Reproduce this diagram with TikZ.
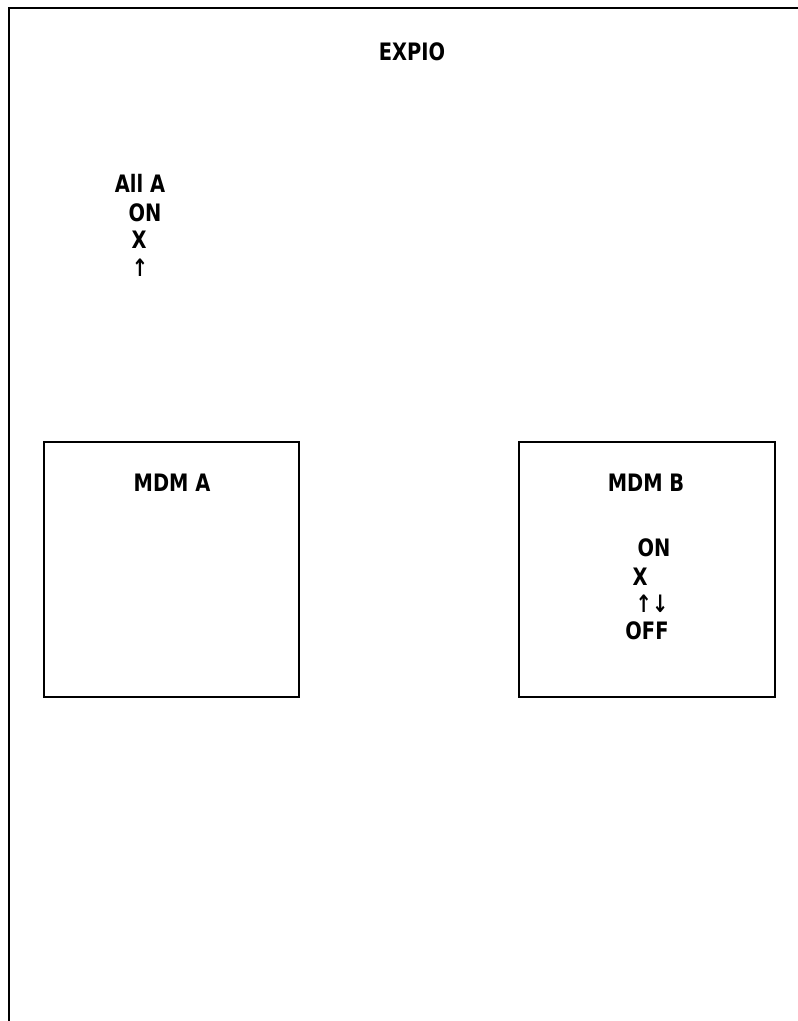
\documentclass[tikz,border=0pt]{standalone}
\usepackage{fontspec}
\usepackage{graphicx}
\setmainfont{DejaVu Sans Condensed}[BoldFont={DejaVu Sans Condensed Bold}]
\newcommand{\narrowtxt}[1]{\scalebox{0.9}[1]{#1}}
\begin{document}
\begin{tikzpicture}[x=1pt,y=-1pt,
  lbl/.style={font=\fontsize{24}{27}\selectfont\bfseries, inner sep=0pt},
  mdm/.style={draw, line width=2.5pt},
  frame/.style={line width=2.5pt}]
\useasboundingbox (0,0) rectangle (798,1021);
\coordinate (tl) at (9,8);
\coordinate (tr) at (798,8);
\coordinate (bl) at (9,1021);
\draw[frame] (tr) -- (tl) -- (bl);
\node[lbl] (expio) at (412,52) {\narrowtxt{EXPIO}};
\node[lbl] (alla) at (140,183) {\narrowtxt{All A}};
\node[lbl] (aon) at (145,213) {\narrowtxt{ON}};
\node[lbl] (ax) at (139,240) {\narrowtxt{X}};
\node[lbl] (aup) at (140,268) {\narrowtxt{↑}};
\draw[mdm] (44,442) rectangle (299,697);
\node[lbl] (mdma) at (172,483) {\narrowtxt{MDM A}};
\draw[mdm] (519,442) rectangle (775,697);
\node[lbl] (mdmb) at (646,483) {\narrowtxt{MDM B}};
\node[lbl] (bon) at (654,548) {\narrowtxt{ON}};
\node[lbl] (bx) at (640,577) {\narrowtxt{X}};
\node[lbl] (bud) at (652,604) {\narrowtxt{↑↓}};
\node[lbl] (boff) at (647,631) {\narrowtxt{OFF}};
\end{tikzpicture}
\end{document}
